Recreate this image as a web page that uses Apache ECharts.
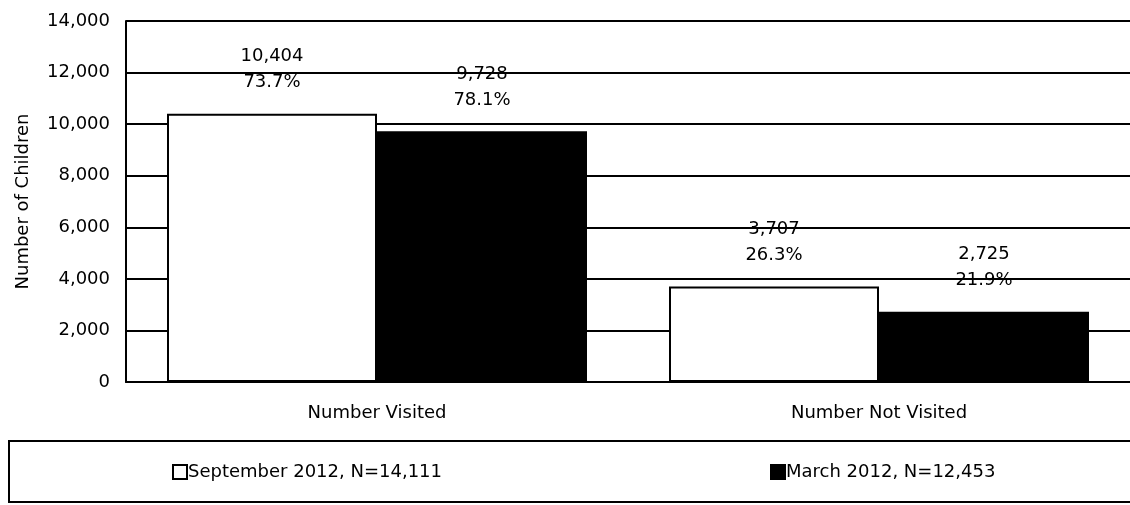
<!DOCTYPE html>
<html>
<head>
<meta charset="utf-8">
<script src="https://cdn.jsdelivr.net/npm/echarts@6/dist/echarts.min.js"></script>
<style>
  html, body { margin: 0; padding: 0; background: #fff; }
  #chart { width: 1130px; height: 505px; }
</style>
</head>
<body>
<div id="chart"></div>
<script>
const categories = ['Number Visited', 'Number Not Visited'];
const septCounts = [10404, 3707];
const septPercents = ['73.7%', '26.3%'];
const marchCounts = [9728, 2725];
const marchPercents = ['78.1%', '21.9%'];
const seriesNames = ['September 2012, N=14,111', 'March 2012, N=12,453'];

const font = 'DejaVu Sans, sans-serif';

function labelFor(percents) {
  return {
    show: true,
    position: 'top',
    distance: 18,
    color: '#000',
    fontFamily: font,
    fontSize: 18,
    lineHeight: 26,
    formatter: function (p) {
      return p.value.toLocaleString('en-US') + '\n' + percents[p.dataIndex];
    }
  };
}

const legendText = { color: '#000', fontFamily: font, fontSize: 18, padding: [0, 0, 0, -4] };

const chart = echarts.init(document.getElementById('chart'));
chart.setOption({
  animation: false,
  backgroundColor: '#fff',
  grid: { left: 126, right: -2, top: 21, bottom: 123 },
  legend: [
    {
      data: [seriesNames[0]],
      left: 167, top: 458,
      icon: 'rect', itemWidth: 14, itemHeight: 14,
      textStyle: legendText
    },
    {
      data: [seriesNames[1]],
      left: 765, top: 458,
      icon: 'rect', itemWidth: 14, itemHeight: 14,
      textStyle: legendText
    }
  ],
  graphic: [
    {
      type: 'rect',
      shape: { x: 9, y: 441, width: 1130, height: 61 },
      style: { fill: 'none', stroke: '#000', lineWidth: 2 }
    }
  ],
  xAxis: {
    type: 'category',
    data: categories,
    axisLine: { show: true, lineStyle: { color: '#000', width: 2 } },
    axisTick: { show: false },
    axisLabel: { color: '#000', fontFamily: font, fontSize: 18, margin: 22 }
  },
  yAxis: {
    type: 'value',
    min: 0, max: 14000, interval: 2000,
    name: 'Number of Children',
    nameLocation: 'middle',
    nameGap: 94,
    nameTextStyle: { color: '#000', fontFamily: font, fontSize: 18 },
    axisLine: { show: true, lineStyle: { color: '#000', width: 2 } },
    axisTick: { show: false },
    splitLine: { show: true, lineStyle: { color: '#000', width: 2 } },
    axisLabel: {
      color: '#000', fontFamily: font, fontSize: 18, margin: 16,
      formatter: function (v) { return v.toLocaleString('en-US'); }
    }
  },
  series: [
    {
      name: seriesNames[0],
      type: 'bar',
      data: septCounts,
      barWidth: 210,
      barGap: '0%',
      itemStyle: { color: '#fff', borderColor: '#000', borderWidth: 2 },
      label: labelFor(septPercents)
    },
    {
      name: seriesNames[1],
      type: 'bar',
      data: marchCounts,
      barWidth: 210,
      itemStyle: { color: '#000', borderColor: '#000', borderWidth: 2 },
      label: labelFor(marchPercents)
    }
  ]
});
</script>
</body>
</html>
